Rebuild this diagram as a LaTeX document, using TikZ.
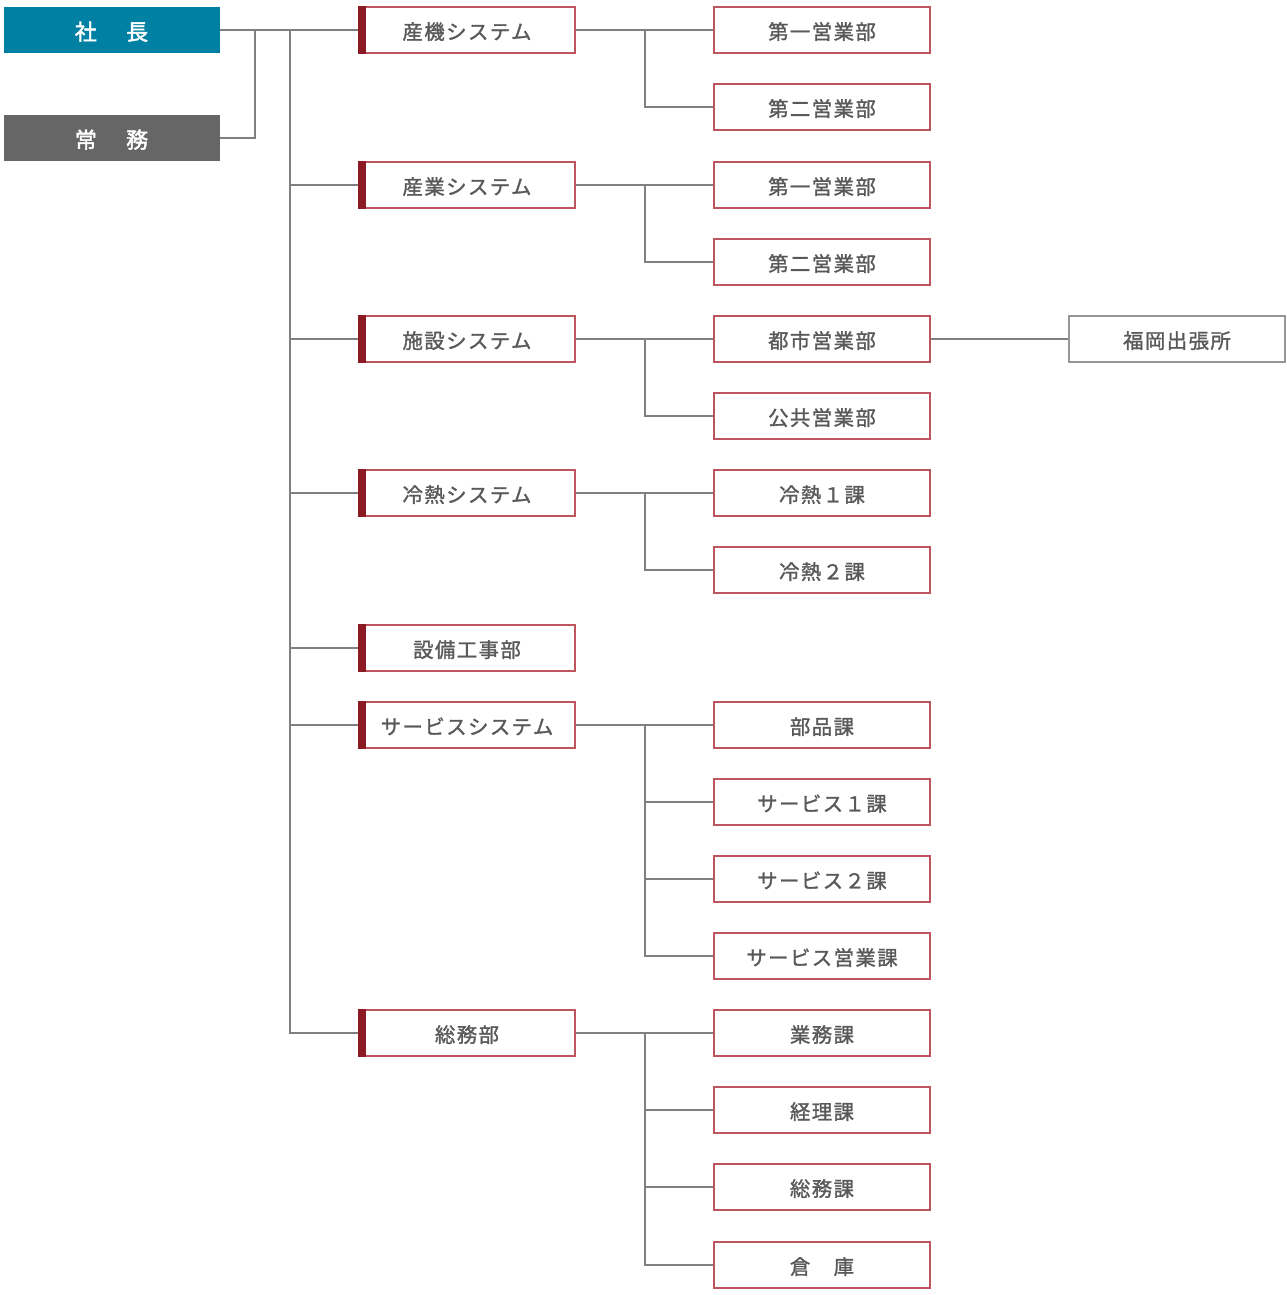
\documentclass[tikz,border=0pt]{standalone}
\usepackage{fontspec}
\setmainfont[LetterSpace=7, FakeBold=1.3]{Noto Sans CJK JP}
\newfontfamily\heavyfont[FakeBold=2]{Noto Sans CJK JP}
\usetikzlibrary{positioning}
\definecolor{teal}{RGB}{0,128,163}
\definecolor{darkgr}{RGB}{102,102,102}
\definecolor{bord}{RGB}{190,84,94}
\definecolor{bar}{RGB}{140,26,36}
\definecolor{txt}{RGB}{89,89,89}
\definecolor{conn}{RGB}{128,128,128}
\definecolor{grbord}{RGB}{150,150,150}
\tikzset{
  base/.style={rectangle, minimum width=162pt, minimum height=34.5pt, inner sep=0pt, text height=14pt, text depth=0pt, font=\fontsize{15.3pt}{18pt}\selectfont, anchor=center},
  topbox/.style={base, fill=#1, text=white, text height=15pt, font=\fontsize{16.5pt}{19pt}\heavyfont},
  lvtwo/.style={base, draw=bord, line width=0.9pt, fill=white, text=txt},
  lvthree/.style={base, draw=bord, line width=0.9pt, fill=white, text=txt},
  graybox/.style={base, draw=grbord, line width=0.9pt, fill=white, text=txt},
  conn/.style={draw=conn, line width=0.8pt},
}
\newcommand{\redbar}[1]{\fill[bar] (#1.north west) rectangle ([xshift=6pt]#1.south west);}
\begin{document}
\begin{tikzpicture}[x=0.75pt,y=-0.75pt]
\useasboundingbox (0,0) rectangle (1287,1295);
% top boxes
\node[topbox=teal] (shacho) at (111.5,30) {社\hspace{22pt}長};
\node[topbox=darkgr] (jomu) at (111.5,138) {常\hspace{22pt}務};
% level 2
\node[lvtwo] (a) at (467,30) {産機システム};
\node[lvtwo] (b) at (467,185) {産業システム};
\node[lvtwo] (c) at (467,339) {施設システム};
\node[lvtwo] (d) at (467,493) {冷熱システム};
\node[lvtwo] (e) at (467,648) {設備工事部};
\node[lvtwo] (f) at (467,725) {サービスシステム};
\node[lvtwo] (g) at (467,1033) {総務部};
\foreach \n in {a,b,c,d,e,f,g}{\redbar{\n}}
% level 3
\node[lvthree] (a1) at (822,30) {第一営業部};
\node[lvthree] (a2) at (822,107) {第二営業部};
\node[lvthree] (b1) at (822,185) {第一営業部};
\node[lvthree] (b2) at (822,262) {第二営業部};
\node[lvthree] (c1) at (822,339) {都市営業部};
\node[lvthree] (c2) at (822,416) {公共営業部};
\node[lvthree] (d1) at (822,493) {冷熱１課};
\node[lvthree] (d2) at (822,570) {冷熱２課};
\node[lvthree] (f1) at (822,725) {部品課};
\node[lvthree] (f2) at (822,802) {サービス１課};
\node[lvthree] (f3) at (822,879) {サービス２課};
\node[lvthree] (f4) at (822,956) {サービス営業課};
\node[lvthree] (g1) at (822,1033) {業務課};
\node[lvthree] (g2) at (822,1110) {経理課};
\node[lvthree] (g3) at (822,1187) {総務課};
\node[lvthree] (g4) at (822,1265) {倉\hspace{17.5pt}庫};
% level 4
\node[graybox] (c1a) at (1177,339) {福岡出張所};
% connectors
\coordinate (j) at (255,30);
\coordinate (t) at (290,30);
\draw[conn] (shacho.east) -- (a.west);
\draw[conn] (jomu.east) -| (j);
\draw[conn] (t) |- (g.west);
\foreach \n in {b,c,d,e,f}{\draw[conn] (\n.west) -- (t |- \n.west);}
% branches
\coordinate (ba) at (645,30);
\coordinate (bb) at (645,185);
\coordinate (bc) at (645,339);
\coordinate (bd) at (645,493);
\coordinate (bf) at (645,725);
\coordinate (bg) at (645,1033);
\draw[conn] (a.east) -- (a1.west);
\draw[conn] (ba) |- (a2.west);
\draw[conn] (b.east) -- (b1.west);
\draw[conn] (bb) |- (b2.west);
\draw[conn] (c.east) -- (c1.west);
\draw[conn] (bc) |- (c2.west);
\draw[conn] (c1.east) -- (c1a.west);
\draw[conn] (d.east) -- (d1.west);
\draw[conn] (bd) |- (d2.west);
\draw[conn] (f.east) -- (f1.west);
\draw[conn] (bf) |- (f4.west);
\draw[conn] (f2.west) -- (bf |- f2.west);
\draw[conn] (f3.west) -- (bf |- f3.west);
\draw[conn] (g.east) -- (g1.west);
\draw[conn] (bg) |- (g4.west);
\draw[conn] (g2.west) -- (bg |- g2.west);
\draw[conn] (g3.west) -- (bg |- g3.west);
\end{tikzpicture}
\end{document}
